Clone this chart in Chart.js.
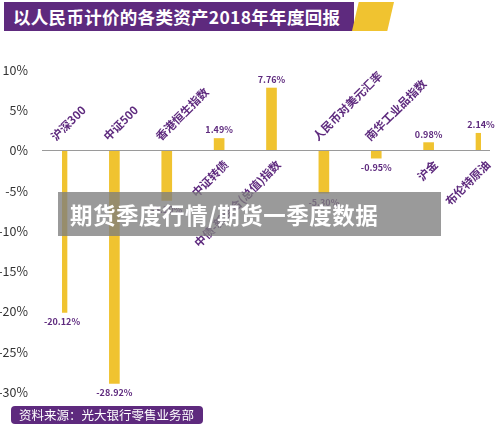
<!DOCTYPE html>
<html><head><meta charset="utf-8">
<script src="https://cdn.jsdelivr.net/npm/chart.js@4"></script>
<style>
body{margin:0;width:500px;height:428px;background:#fff;position:relative;overflow:hidden;font-family:"Noto Sans CJK SC",sans-serif}
#c{position:absolute;left:0;top:0}
.hd{position:absolute;left:4px;top:2px;width:350px;height:29px;background:#5e2a7e;color:#fff;font-weight:bold;font-size:17.5px;line-height:29px;padding-left:9px;box-sizing:border-box;letter-spacing:0.3px}
.acc{position:absolute;left:352px;top:2px;width:42px;height:29px;background:#f0c330;clip-path:polygon(16% 0,100% 0,84% 100%,0 100%)}
.ft{position:absolute;left:11px;top:406px;width:192px;height:18px;background:#5e2a7e;border-radius:4px;color:#fff;font-size:12.5px;line-height:18px;padding-left:8px;box-sizing:border-box}
.ov{position:absolute;left:58px;top:192px;width:383px;height:44px;background:rgba(125,125,125,0.78);color:#fff;font-weight:bold;font-size:22.5px;line-height:44px;padding-left:12px;box-sizing:border-box;letter-spacing:0.5px}
</style></head><body>
<canvas id="c" width="500" height="428"></canvas>
<div class="hd">以人民币计价的各类资产2018年年度回报</div><div class="acc"></div>
<div class="ft">资料来源：光大银行零售业务部</div>
<div class="ov">期货季度行情/期货一季度数据</div>
<script>
const categories = ['沪深300','中证500','香港恒生指数','中证转债','中债-新综合(总值)指数','人民币对美元汇率','南华工业品指数','沪金','布伦特原油'];
const returns = [-20.12, -28.92, -6.2, 1.49, 7.76, -5.3, -0.95, 0.98, 2.14];
const yTicks = [10, 5, 0, -5, -10, -15, -20, -25, -30];

const PURPLE = '#5e2a7e';
const labelPlugin = {
  id: 'labels',
  afterDatasetsDraw(chart) {
    const ctx = chart.ctx, y = chart.scales.y;
    const zy = y.getPixelForValue(0);
    ctx.save();
    ctx.strokeStyle = '#9a9a9a'; ctx.lineWidth = 1;
    ctx.beginPath(); ctx.moveTo(42, zy); ctx.lineTo(490, zy); ctx.stroke();
    chart.getDatasetMeta(0).data.forEach((bar, i) => {
      const v = returns[i];
      ctx.fillStyle = PURPLE;
      ctx.font = 'bold 9px "Noto Sans CJK SC"';
      ctx.textAlign = 'center';
      if (v >= 0) { ctx.textBaseline = 'bottom'; ctx.fillText(v.toFixed(2) + '%', bar.x, bar.y - 4); }
      else { ctx.textBaseline = 'top'; ctx.fillText(v.toFixed(2) + '%', bar.x, bar.y + 5); }
      ctx.save();
      ctx.font = 'bold 11.5px "Noto Sans CJK SC"';
      ctx.textBaseline = 'middle';
      if (v < 0) { ctx.translate(bar.x - 9, zy - 12); ctx.rotate(-Math.PI / 4); ctx.textAlign = 'left'; }
      else { ctx.translate(bar.x + 7, zy + 12); ctx.rotate(-Math.PI / 4); ctx.textAlign = 'right'; }
      ctx.fillText(categories[i], 0, 0);
      ctx.restore();
    });
    ctx.restore();
  }
};

new Chart(document.getElementById('c'), {
  type: 'bar',
  data: { labels: categories, datasets: [{ data: returns, backgroundColor: '#f0c330', barThickness: 10 }] },
  options: {
    responsive: false, animation: false,
    layout: { padding: { top: 70, bottom: 36, right: 19, left: 0 } },
    plugins: { legend: { display: false }, tooltip: { enabled: false } },
    scales: {
      x: { display: false, offset: false },
      y: {
        min: -30, max: 10,
        afterFit(s) { s.width = 62; },
        afterBuildTicks(s) { s.ticks = yTicks.map(v => ({ value: v })); },
        grid: { display: false }, border: { display: false },
        ticks: { padding: 26, color: '#333', font: { size: 12.5, family: 'Noto Sans CJK SC' }, callback: v => v + '%' }
      }
    }
  },
  plugins: [labelPlugin]
});
</script>
</body></html>
